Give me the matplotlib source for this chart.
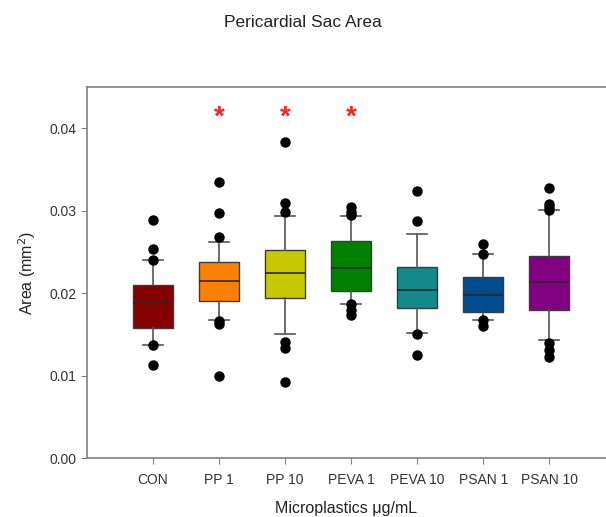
import matplotlib
matplotlib.use("Agg")
import matplotlib.pyplot as plt

plt.rcParams['font.family'] = ['Liberation Sans', 'DejaVu Sans']

# box plot summary values (area, mm^2)
groups = ['CON', 'PP 1', 'PP 10', 'PEVA 1', 'PEVA 10', 'PSAN 1', 'PSAN 10']
q1 = [0.0158, 0.0191, 0.0194, 0.0203, 0.0182, 0.0177, 0.0179]
medians = [0.0188, 0.0215, 0.0225, 0.0230, 0.0204, 0.0198, 0.0214]
q3 = [0.0210, 0.0238, 0.0252, 0.0263, 0.0232, 0.0219, 0.0245]
whisk_lo = [0.0137, 0.0167, 0.0151, 0.0187, 0.0152, 0.0167, 0.0143]
whisk_hi = [0.0240, 0.0262, 0.0293, 0.0294, 0.0272, 0.0247, 0.0301]
outliers = [
    [0.0289, 0.0253, 0.0240, 0.0137, 0.0113],
    [0.0335, 0.0297, 0.0268, 0.0166, 0.0162, 0.0099],
    [0.0383, 0.0309, 0.0299, 0.0141, 0.0133, 0.0092],
    [0.0305, 0.0299, 0.0295, 0.0187, 0.0179, 0.0173],
    [0.0324, 0.0287, 0.0151, 0.0125],
    [0.0259, 0.0248, 0.0167, 0.0160],
    [0.0327, 0.0308, 0.0305, 0.0301, 0.0139, 0.0131, 0.0122],
]
significant = ['PP 1', 'PP 10', 'PEVA 1']
colors = ['#850000', '#ff8000', '#c8c800', '#008000', '#14898c', '#004c8f', '#820082']

fig = plt.figure(figsize=(6.06, 5.17), dpi=100)
# axes runs off the right edge of the figure, like the cropped original
ax = fig.add_axes([0.1436, 0.1141, 0.8564, 0.7176])

stats = []
for i, g in enumerate(groups):
    stats.append({'label': g, 'q1': q1[i], 'med': medians[i], 'q3': q3[i],
                  'whislo': whisk_lo[i], 'whishi': whisk_hi[i], 'fliers': outliers[i]})

positions = list(range(1, len(groups) + 1))
bp = ax.bxp(stats, positions=positions, widths=0.6, patch_artist=True,
            boxprops=dict(edgecolor='#3a3a3a', linewidth=1.0),
            medianprops=dict(color='#2a2a2a', linewidth=1.2),
            whiskerprops=dict(color='#555555', linewidth=1.2),
            capprops=dict(color='#555555', linewidth=1.2),
            capwidths=0.3,
            flierprops=dict(marker='o', markerfacecolor='black', markeredgecolor='black',
                            markersize=6.5))
for patch, c in zip(bp['boxes'], colors):
    patch.set_facecolor(c)

for g in significant:
    ax.text(groups.index(g) + 1, 0.0413, '*', color='#ff2020', fontsize=20,
            ha='center', va='center', fontweight='bold')

ax.set_xlim(0, 7.86)
ax.set_ylim(0, 0.045)
ax.set_yticks([0.0, 0.01, 0.02, 0.03, 0.04])
ax.set_yticklabels(['0.00', '0.01', '0.02', '0.03', '0.04'])
ax.set_xticks(positions)
ax.set_xticklabels(groups)
ax.tick_params(axis='both', labelsize=10, colors='#808080', labelcolor='#333333',
               direction='out', length=4)
ax.tick_params(axis='x', pad=7)
for s in ax.spines.values():
    s.set_color('#808080')
    s.set_linewidth(1.2)
ax.spines['right'].set_visible(False)

ax.set_ylabel('Area (mm$^2$)', fontsize=11.5, color='#222222', labelpad=8)
ax.set_xlabel('Microplastics μg/mL', fontsize=11.5, color='#222222', labelpad=10)
fig.text(0.5, 0.957, 'Pericardial Sac Area', ha='center', va='center', fontsize=12.5,
         color='#222222')

fig.savefig('out.png', dpi=100)
